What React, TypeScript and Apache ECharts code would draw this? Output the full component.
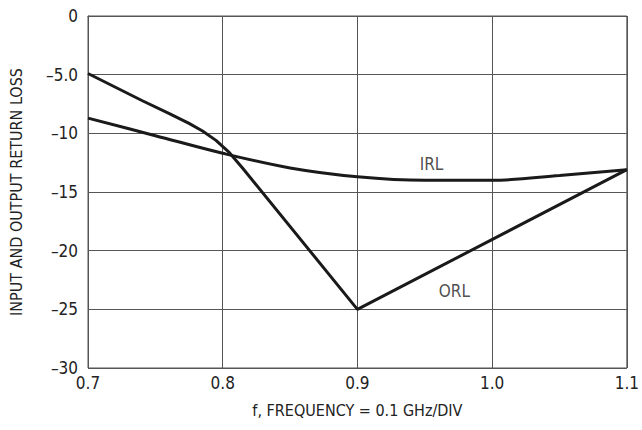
import React, { useEffect, useRef } from "react";
import * as echarts from "echarts";

const irlFreq = [0.7, 0.75, 0.8, 0.85, 0.9, 0.95, 1.0, 1.05, 1.1];
const irlValues = [-8.7, -10.2, -11.7, -12.95, -13.7, -14.0, -14.0, -13.6, -13.1];

const orlFreq = [0.7, 0.72, 0.74, 0.76, 0.775, 0.785, 0.795, 0.805, 0.815, 0.9, 1.1];
const orlValues = [-4.9, -6.05, -7.2, -8.3, -9.15, -9.8, -10.6, -11.65, -13.0, -25, -13.1];

const yTickLabels: Record<string, string> = {
  "0": "0",
  "-5": "\u20135.0",
  "-10": "\u201310",
  "-15": "\u201315",
  "-20": "\u201320",
  "-25": "\u201325",
  "-30": "\u201330",
};

const curveLabels = [
  { name: "IRL", f: 0.955, v: -12.6 },
  { name: "ORL", f: 0.972, v: -23.4 },
];

const FONT = "'Liberation Sans Narrow', 'DejaVu Sans Condensed', 'Liberation Sans', sans-serif";

export default function App() {
  const ref = useRef<HTMLDivElement>(null);
  useEffect(() => {
    if (!ref.current) return;
    const chart = echarts.init(ref.current, undefined, { renderer: "svg" });
    const lineStyle = { color: "#1a1a1a", width: 3 };
    chart.setOption({
      animation: false,
      backgroundColor: "#ffffff",
      grid: { left: 88, right: 14, top: 16, bottom: 62, show: true, borderColor: "#555", borderWidth: 1 },
      xAxis: {
        type: "value",
        min: 0.7,
        max: 1.1,
        interval: 0.1,
        name: "f, FREQUENCY = 0.1 GHz/DIV",
        nameLocation: "middle",
        nameGap: 34,
        nameTextStyle: { fontFamily: FONT, fontSize: 16, color: "#222" },
        axisLine: { show: true, lineStyle: { color: "#555", width: 1 } },
        axisTick: { show: false },
        axisLabel: {
          fontFamily: FONT,
          fontSize: 17,
          color: "#222",
          margin: 6,
          formatter: (v: number) => v.toFixed(1),
        },
        splitLine: { show: true, lineStyle: { color: "#555", width: 1 } },
      },
      yAxis: {
        type: "value",
        min: -30,
        max: 0,
        interval: 5,
        name: "INPUT AND OUTPUT RETURN LOSS",
        nameLocation: "middle",
        nameGap: 64,
        nameTextStyle: { fontFamily: FONT, fontSize: 16, color: "#222" },
        axisLine: { show: true, lineStyle: { color: "#555", width: 1 } },
        axisTick: { show: false },
        axisLabel: {
          fontFamily: FONT,
          fontSize: 17,
          color: "#222",
          margin: 10,
          formatter: (v: number) => yTickLabels[String(v)] ?? String(v),
        },
        splitLine: { show: true, lineStyle: { color: "#555", width: 1 } },
      },
      series: [
        {
          name: "IRL",
          type: "line",
          smooth: 0.35,
          symbol: "none",
          data: irlFreq.map((f, i) => [f, irlValues[i]]),
          lineStyle,
          z: 3,
        },
        {
          name: "ORL",
          type: "line",
          smooth: false,
          symbol: "none",
          data: orlFreq.map((f, i) => [f, orlValues[i]]),
          lineStyle,
          z: 3,
        },
        {
          type: "scatter",
          symbolSize: 0,
          data: curveLabels.map((c) => ({ name: c.name, value: [c.f, c.v] })),
          label: {
            show: true,
            position: "inside",
            formatter: (p: any) => p.name,
            fontFamily: FONT,
            fontSize: 17,
            color: "#222",
          },
          silent: true,
          z: 4,
        },
      ],
    });
    return () => chart.dispose();
  }, []);
  return <div ref={ref} style={{ width: 642, height: 430, position: "absolute", left: 0, top: 0 }} />;
}
